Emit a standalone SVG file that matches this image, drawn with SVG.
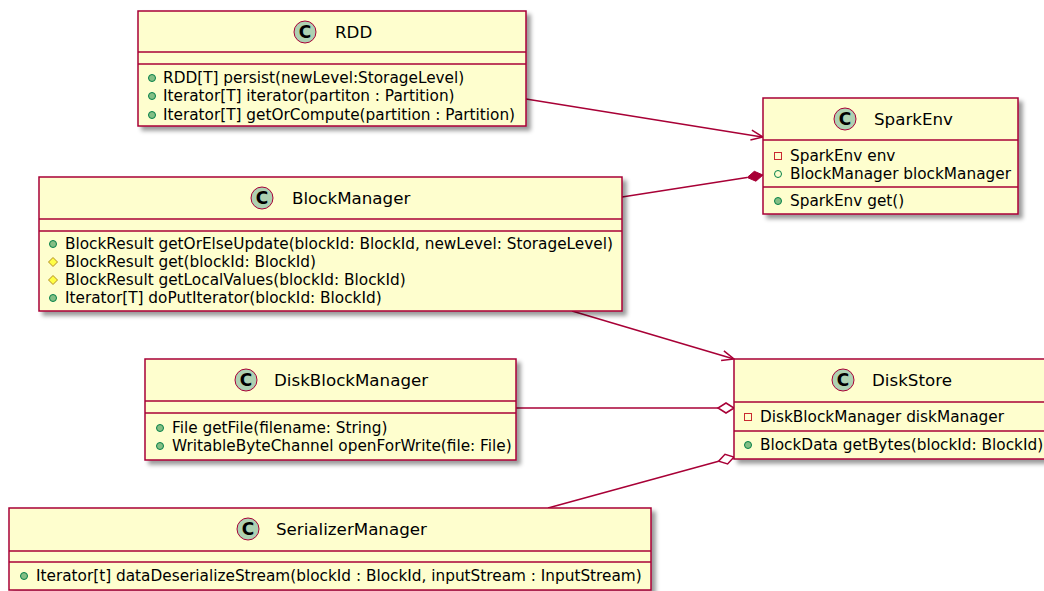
<svg xmlns="http://www.w3.org/2000/svg" width="1044" height="591" viewBox="0 0 1044 591">
  <defs>
    <filter id="shadow" x="-5%" y="-10%" width="115%" height="130%">
      <feGaussianBlur in="SourceAlpha" stdDeviation="2"/>
      <feOffset dx="4" dy="4" result="blur"/>
      <feFlood flood-color="#000" flood-opacity="0.4"/>
      <feComposite in2="blur" operator="in" result="sh"/>
      <feMerge><feMergeNode in="sh"/><feMergeNode in="SourceGraphic"/></feMerge>
    </filter>
    <g id="pubm"><circle r="3.5" fill="#84BE84" stroke="#038048" stroke-width="1"/></g>
    <g id="pubf"><circle r="3.5" fill="none" stroke="#038048" stroke-width="1"/></g>
    <g id="priv"><rect x="-3.5" y="-3.5" width="7" height="7" fill="none" stroke="#C82930" stroke-width="1"/></g>
    <g id="prot"><polygon points="0,-4.5 4.5,0 0,4.5 -4.5,0" fill="#FFFF44" stroke="#B38D22" stroke-width="1"/></g>
  </defs>
  <style>
    .box { fill: #FEFECE; stroke: #A80036; stroke-width: 1.5; filter: url(#shadow); }
    .sep { stroke: #A80036; stroke-width: 1.5; }
    .spot { fill: #ADD1B2; stroke: #A80036; stroke-width: 1; }
    .spotc { font-family: "DejaVu Sans", sans-serif; font-size: 17px; font-weight: bold; fill: #000; text-anchor: middle; }
    .title { font-family: "DejaVu Sans", sans-serif; font-size: 16.7px; fill: #000; }
    .mem { font-family: "DejaVu Sans", sans-serif; font-size: 15.3px; fill: #000; }
    .edge { fill: none; stroke: #A80036; stroke-width: 1.5; }
  </style>
  <rect width="1044" height="591" fill="#FFFFFF"/>

  <g id="connectors">
    <!-- RDD to SparkEnv: open arrow -->
    <line class="edge" x1="526" y1="99" x2="762" y2="137"/>
    <polyline class="edge" points="750.4,140 763,137 751.9,130.2"/>
    <!-- BlockManager to SparkEnv: composition -->
    <line class="edge" x1="622" y1="197" x2="747" y2="177.5"/>
    <polygon points="763,175 755.9,181.2 747.2,177.5 754.3,171.3" fill="#A80036" stroke="#A80036" stroke-width="1"/>
    <!-- BlockManager to DiskStore: open arrow -->
    <line class="edge" x1="572" y1="311" x2="733" y2="358.7"/>
    <polyline class="edge" points="721.1,360.4 734,359 723.9,350.8"/>
    <!-- DiskBlockManager to DiskStore: aggregation -->
    <line class="edge" x1="516" y1="408" x2="718" y2="408"/>
    <polygon points="734,408 726,413 718,408 726,403" fill="#FFFFFF" stroke="#A80036" stroke-width="1.5"/>
    <!-- SerializerManager to DiskStore: aggregation -->
    <line class="edge" x1="548" y1="508" x2="718.6" y2="461.2"/>
    <polygon points="734,457 727.6,463.9 718.6,461.2 725,454.3" fill="#FFFFFF" stroke="#A80036" stroke-width="1.5"/>
  </g>

  <g id="RDD">
    <rect class="box" x="138" y="11" width="388" height="115"/>
    <circle class="spot" cx="305" cy="32" r="11"/>
    <text class="spotc" x="305" y="38">C</text>
    <text class="title" x="335" y="38">RDD</text>
    <line class="sep" x1="138" y1="52" x2="526" y2="52"/>
    <line class="sep" x1="138" y1="64" x2="526" y2="64"/>
    <use href="#pubm" x="152" y="78"/>
    <text class="mem" x="163" y="83">RDD[T] persist(newLevel:StorageLevel)</text>
    <use href="#pubm" x="152" y="96"/>
    <text class="mem" x="163" y="101">Iterator[T] iterator(partiton : Partition)</text>
    <use href="#pubm" x="152" y="115"/>
    <text class="mem" x="163" y="120">Iterator[T] getOrCompute(partition : Partition)</text>
  </g>

  <g id="SparkEnv">
    <rect class="box" x="763" y="98" width="255" height="116"/>
    <circle class="spot" cx="845" cy="119" r="11"/>
    <text class="spotc" x="845" y="125">C</text>
    <text class="title" x="874" y="125">SparkEnv</text>
    <line class="sep" x1="763" y1="140" x2="1018" y2="140"/>
    <use href="#priv" x="778" y="156"/>
    <text class="mem" x="790" y="161">SparkEnv env</text>
    <use href="#pubf" x="778" y="174"/>
    <text class="mem" x="790" y="179">BlockManager blockManager</text>
    <line class="sep" x1="763" y1="187" x2="1018" y2="187"/>
    <use href="#pubm" x="778" y="201"/>
    <text class="mem" x="790" y="206">SparkEnv get()</text>
  </g>

  <g id="BlockManager">
    <rect class="box" x="39" y="177" width="583" height="134"/>
    <circle class="spot" cx="262" cy="198" r="11"/>
    <text class="spotc" x="262" y="204">C</text>
    <text class="title" x="292" y="204">BlockManager</text>
    <line class="sep" x1="39" y1="219" x2="622" y2="219"/>
    <line class="sep" x1="39" y1="231" x2="622" y2="231"/>
    <use href="#pubm" x="53" y="244"/>
    <text class="mem" x="65" y="249">BlockResult getOrElseUpdate(blockId: BlockId, newLevel: StorageLevel)</text>
    <use href="#prot" x="53" y="262"/>
    <text class="mem" x="65" y="267">BlockResult get(blockId: BlockId)</text>
    <use href="#prot" x="53" y="280"/>
    <text class="mem" x="65" y="285">BlockResult getLocalValues(blockId: BlockId)</text>
    <use href="#pubm" x="53" y="298"/>
    <text class="mem" x="65" y="303">Iterator[T] doPutIterator(blockId: BlockId)</text>
  </g>

  <g id="DiskBlockManager">
    <rect class="box" x="145" y="359" width="371" height="101"/>
    <circle class="spot" cx="246" cy="380" r="11"/>
    <text class="spotc" x="246" y="386">C</text>
    <text class="title" x="274" y="386">DiskBlockManager</text>
    <line class="sep" x1="145" y1="401" x2="516" y2="401"/>
    <line class="sep" x1="145" y1="413" x2="516" y2="413"/>
    <use href="#pubm" x="160" y="428"/>
    <text class="mem" x="172" y="433">File getFile(filename: String)</text>
    <use href="#pubm" x="160" y="446"/>
    <text class="mem" x="172" y="451">WritableByteChannel openForWrite(file: File)</text>
  </g>

  <g id="DiskStore">
    <rect class="box" x="734" y="359" width="320" height="100"/>
    <circle class="spot" cx="843" cy="380" r="11"/>
    <text class="spotc" x="843" y="386">C</text>
    <text class="title" x="872" y="386">DiskStore</text>
    <line class="sep" x1="734" y1="402" x2="1054" y2="402"/>
    <use href="#priv" x="748" y="417"/>
    <text class="mem" x="760" y="422">DiskBlockManager diskManager</text>
    <line class="sep" x1="734" y1="431" x2="1054" y2="431"/>
    <use href="#pubm" x="748" y="445"/>
    <text class="mem" x="760" y="450">BlockData getBytes(blockId: BlockId)</text>
  </g>

  <g id="SerializerManager">
    <rect class="box" x="9" y="508" width="642" height="82"/>
    <circle class="spot" cx="248" cy="529" r="11"/>
    <text class="spotc" x="248" y="535">C</text>
    <text class="title" x="276" y="535">SerializerManager</text>
    <line class="sep" x1="9" y1="551" x2="651" y2="551"/>
    <line class="sep" x1="9" y1="562" x2="651" y2="562"/>
    <use href="#pubm" x="24" y="576"/>
    <text class="mem" x="36" y="581">Iterator[t] dataDeserializeStream(blockId : BlockId, inputStream : InputStream)</text>
  </g>
</svg>
